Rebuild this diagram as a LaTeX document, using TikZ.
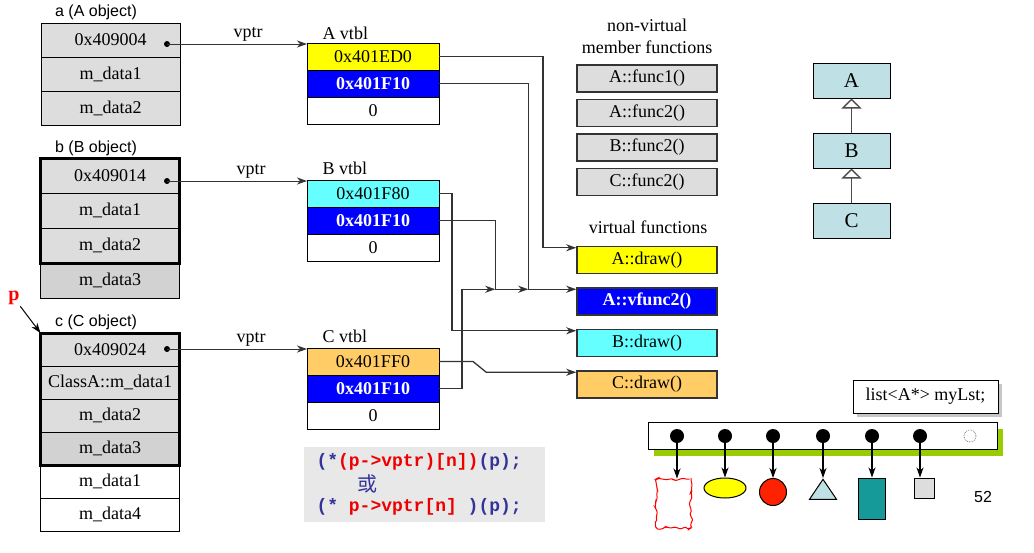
\documentclass[tikz,border=0pt]{standalone}
\usepackage{fontspec}
\setmainfont{Liberation Serif}
\setsansfont{Liberation Sans}
\setmonofont{Liberation Mono}
\newfontfamily\cjk{Noto Sans CJK SC}
\usetikzlibrary{positioning,arrows.meta,shapes.geometric,shadows,decorations.pathmorphing}
\definecolor{cellgray}{HTML}{DDDDDD}
\definecolor{marble}{HTML}{D2D2D2}
\definecolor{vyellow}{HTML}{FFFF00}
\definecolor{vblue}{HTML}{0000FF}
\definecolor{vcyan}{HTML}{66FFFF}
\definecolor{vorange}{HTML}{FFCC66}
\definecolor{clsblue}{HTML}{BFE0E4}
\definecolor{codegray}{HTML}{E8E8E8}
\definecolor{codeblue}{HTML}{333399}
\definecolor{codered}{HTML}{EE0000}
\definecolor{lgreen}{HTML}{99CC00}
\definecolor{tealbox}{HTML}{169999}
\definecolor{shapered}{HTML}{FF2200}
\pgfmathsetseed{7}
\begin{document}
\begin{tikzpicture}[x=1pt, y=-1pt, line width=1pt, font=\fontsize{18}{20}\selectfont,
    cell/.style = {draw, fill=cellgray, minimum width=139pt, inner sep=0pt, outer sep=0pt},
    vt/.style = {draw, minimum width=132pt, minimum height=27pt, inner sep=0pt, outer sep=0pt},
    fn/.style = {draw=black!80, line width=1.5pt, minimum width=140pt, minimum height=27pt, inner sep=0pt},
    hot/.style = {text=white, font=\fontsize{18}{20}\selectfont\bfseries},
    lbl/.style = {font=\sffamily\fontsize{16}{18}\selectfont, inner sep=0pt},
    cls/.style = {draw, fill=clsblue, minimum width=77pt, minimum height=35pt, font=\fontsize{21}{22}\selectfont},
    arr/.style = {draw=black!80, line width=1.3pt, -{Stealth[length=10pt,width=7pt,inset=3pt]}},
    inh/.style = {draw=black!70, line width=1.3pt, -{Triangle[open,length=10pt,width=20pt,fill=white]}},
    thickbox/.style = {line width=3pt},
    pin/.style = {circle, fill, inner sep=0pt, minimum size=6pt},
    dot/.style = {circle, fill, inner sep=0pt, minimum size=14pt},
    code/.style = {font=\ttfamily\bfseries\fontsize{18}{20}\selectfont, anchor=west, inner sep=0pt}]
    \useasboundingbox (0,0) rectangle (1034,552);

    % objects
    \node[lbl] (alab) at (96,12) {a (A object)};
    \node[cell, minimum height=34pt] (a1) at (110.5,40) {0x409004};
    \node[cell, minimum height=34pt] (a2) [below=0pt of a1] {m\_data1};
    \node[cell, minimum height=34pt] (a3) [below=0pt of a2] {m\_data2};

    \node[lbl] (blab) at (96,148) {b (B object)};
    \node[cell, minimum height=35pt] (b1) at (110,175.5) {0x409014};
    \node[cell, minimum height=35pt] (b2) [below=0pt of b1] {m\_data1};
    \node[cell, minimum height=35pt] (b3) [below=0pt of b2] {m\_data2};
    \node[cell, minimum height=35pt, fill=marble] (b4) [below=0pt of b3] {m\_data3};
    \draw[thickbox] (b1.north west) rectangle (b3.south east);

    \node[lbl] (clab) at (96,322) {c (C object)};
    \node[cell, minimum height=33pt] (c1) at (110,349.5) {0x409024};
    \node[cell, minimum height=33pt] (c2) [below=0pt of c1] {ClassA::m\_data1};
    \node[cell, minimum height=33pt] (c3) [below=0pt of c2] {m\_data2};
    \node[cell, minimum height=33pt, fill=marble] (c4) [below=0pt of c3] {m\_data3};
    \node[cell, minimum height=33pt, fill=white] (c5) [below=0pt of c4] {m\_data1};
    \node[cell, minimum height=33pt, fill=white] (c6) [below=0pt of c5] {m\_data4};
    \draw[thickbox] (c1.north west) rectangle (c4.south east);

    \node[text=red, font=\fontsize{20}{20}\selectfont\bfseries, inner sep=1pt] (p) at (14,298) {p};
    \draw[arr, draw=black, line width=1pt] (p) -- (c1.north west);

    % vtbls
    \node[anchor=west, inner sep=0pt] (avtl) at (322,33) {A vtbl};
    \node[vt, fill=vyellow] (avt1) at (373,56.5) {0x401ED0};
    \node[vt, fill=vblue, hot] (avt2) [below=0pt of avt1] {0x401F10};
    \node[vt, fill=white] (avt3) [below=0pt of avt2] {0};

    \node[anchor=west, inner sep=0pt] (bvtl) at (322,168) {B vtbl};
    \node[vt, fill=vcyan] (bvt1) at (373,193.5) {0x401F80};
    \node[vt, fill=vblue, hot] (bvt2) [below=0pt of bvt1] {0x401F10};
    \node[vt, fill=white] (bvt3) [below=0pt of bvt2] {0};

    \node[anchor=west, inner sep=0pt] (cvtl) at (322,336) {C vtbl};
    \node[vt, fill=vorange] (cvt1) at (373,361.5) {0x401FF0};
    \node[vt, fill=vblue, hot] (cvt2) [below=0pt of cvt1] {0x401F10};
    \node[vt, fill=white] (cvt3) [below=0pt of cvt2] {0};

    \node[pin] (adot) at (167,44) {};
    \node[pin] (bdot) at (167,181) {};
    \node[pin] (cdot) at (167,349) {};
    \draw[arr, line width=1pt] (adot.center) -- node[above, pos=.58, inner sep=2pt] {vptr} (adot.center -| avt1.west);
    \draw[arr, line width=1pt] (bdot.center) -- node[above, pos=.6, inner sep=2pt] {vptr} (bdot.center -| bvt1.west);
    \draw[arr, line width=1pt] (cdot.center) -- node[above, pos=.6, inner sep=2pt] {vptr} (cdot.center -| cvt1.west);

    % functions
    \node[align=center, inner sep=0pt, font=\fontsize{18}{22}\selectfont] (nvt) at (647,36) {non-virtual\\member functions};
    \node[fn, fill=cellgray] (f1) at (647,78.5) {A::func1()};
    \node[fn, fill=cellgray] (f2) [below=6pt of f1] {A::func2()};
    \node[fn, fill=cellgray] (f3) [below=6pt of f2] {B::func2()};
    \node[fn, fill=cellgray] (f4) [below=6pt of f3] {C::func2()};

    \node[inner sep=0pt] (vtitle) at (648,227) {virtual functions};
    \node[fn, fill=vyellow] (adraw) at (647,260) {A::draw()};
    \node[fn, fill=vblue, hot] (vfunc) [below=13pt of adraw] {A::vfunc2()};
    \node[fn, fill=vcyan] (bdraw) [below=13pt of vfunc] {B::draw()};
    \node[fn, fill=vorange] (cdraw) [below=13pt of bdraw] {C::draw()};

    \coordinate (ja) at ([xshift=-48pt,yshift=-2pt]vfunc.north west);
    \coordinate (jb) at ([xshift=-81pt,yshift=-2pt]vfunc.north west);
    \draw[arr] (avt1.east) -- ++(104,0) |- ([yshift=-2pt]adraw.north west);
    \draw[arr] (avt2.east) -| (ja) -- ([yshift=-2pt]vfunc.north west);
    \draw[arr] (bvt1.east) -- ++(13,0) |- ([yshift=-2pt]bdraw.north west);
    \draw[arr] (bvt2.east) -| (jb) -- (ja);
    \draw[arr] (cvt2.east) -- ++(23,0) |- (jb);
    \draw[arr] (cvt1.east) -- ++(34,0) -- ([xshift=-90pt,yshift=-2pt]cdraw.north west) -- ([yshift=-2pt]cdraw.north west);

    % class hierarchy
    \node[cls] (ca) at (851.5,80.5) {A};
    \node[cls] (cb) at (851.5,150.5) {B};
    \node[cls] (cc) at (851.5,220.5) {C};
    \draw[inh] (cb) -- (ca);
    \draw[inh] (cc) -- (cb);

    % call through the vtbl
    \node[fill=codegray, minimum width=241pt, minimum height=75pt] (codebg) at (424.5,484.5) {};
    \node[code] (l1) at (316,462) {\textcolor{codeblue}{(*}\textcolor{codered}{(p->vptr)[n])}\textcolor{codeblue}{(p);}};
    \node[text=codeblue, inner sep=0pt, font=\cjk\fontsize{20}{20}\selectfont] (orw) at (367,484) {或};
    \node[code] (l2) at (316,507) {\textcolor{codeblue}{(*~}\textcolor{codered}{p->vptr[n]}\textcolor{codeblue}{~)(p);}};

    % list of A*
    \node[draw, fill=white, minimum width=145pt, minimum height=33pt,
          drop shadow={shadow xshift=4pt, shadow yshift=-4pt, fill=gray!45, opacity=1}] (lst) at (925.5,396.5) {list<A*> myLst;};
    \node[draw, fill=white, minimum width=349pt, minimum height=27pt,
          drop shadow={shadow xshift=6pt, shadow yshift=-7pt, fill=lgreen, opacity=1}] (bar) at (822.5,435.5) {};
    \foreach \i/\x in {0/677,1/725,2/773,3/823,4/872,5/920}
        \node[dot] (d\i) at (\x,436) {};
    \node[circle, draw=gray, densely dotted, line width=0.8pt, minimum size=12pt, inner sep=0pt] (dnull) at (970,436) {};

    \node[draw=red, fill=white, decorate, decoration={random steps, segment length=3pt, amplitude=1.6pt},
          rounded corners=1.5pt, minimum width=35pt, minimum height=49pt, inner sep=0pt] (s0) at (673.5,503.5) {};
    \node[ellipse, draw, fill=vyellow, minimum width=42pt, minimum height=20pt, inner sep=0pt] (s1) at (725,488) {};
    \node[circle, draw, fill=shapered, minimum size=27pt, inner sep=0pt] (s2) at (773,492) {};
    \node[isosceles triangle, shape border rotate=90, isosceles triangle stretches, draw, fill=clsblue,
          minimum width=27pt, minimum height=20pt, inner sep=0pt, anchor=apex] (s3) at (823,478) {};
    \node[draw, fill=tealbox, minimum width=27pt, minimum height=41pt, inner sep=0pt] (s4) at (871.5,498.5) {};
    \node[draw, fill=cellgray, minimum size=20pt, inner sep=0pt] (s5) at (924,488) {};
    \foreach \i/\a in {0/north,1/north,2/north,3/apex,4/north,5/north}
        \draw[arr, draw=black, line width=1.2pt] (d\i.center) -- (d\i.center |- s\i.\a);

    \node[lbl] (pg) at (983,497) {52};
\end{tikzpicture}
\end{document}
